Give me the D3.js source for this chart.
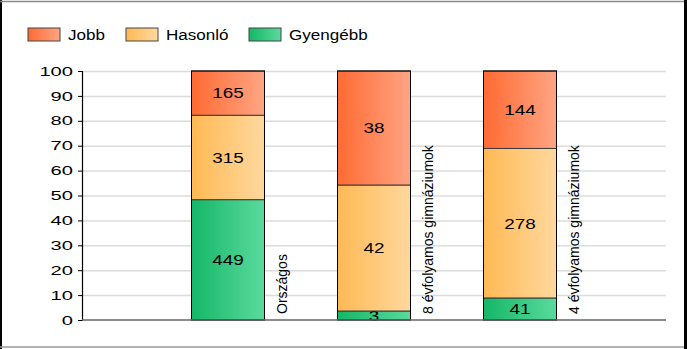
<!DOCTYPE html>
<html>
<head>
<meta charset="utf-8">
<script src="https://cdn.jsdelivr.net/npm/d3@7"></script>
<style>
  html, body { margin: 0; padding: 0; background: #fff; }
  svg { display: block; }
  text { font-family: "Liberation Sans", Arial, sans-serif; fill: #000; }
</style>
</head>
<body>
<svg id="chart" width="687" height="349"></svg>
<script>
// ---- data ----
const categories = ["Országos", "8 évfolyamos gimnáziumok", "4 évfolyamos gimnáziumok"];
const seriesNames = ["Jobb", "Hasonló", "Gyengébb"];
const gyengebb = [449, 3, 41];
const hasonlo = [315, 42, 278];
const jobb = [165, 38, 144];
const yTicks = [0, 10, 20, 30, 40, 50, 60, 70, 80, 90, 100];

// colours (left -> right gradient stops)
const grad = {
  "Jobb": ["#ff6a33", "#ffa583"],
  "Hasonló": ["#ffb954", "#ffd89e"],
  "Gyengébb": ["#15b767", "#5ada9d"]
};

(function () {
const svg = d3.select("#chart");
const W = 687, H = 349;

// frame
svg.append("rect").attr("x", 0).attr("y", 0).attr("width", W).attr("height", H).attr("fill", "#fff");
svg.append("rect").attr("x", 0).attr("y", 0).attr("width", 2).attr("height", H).attr("fill", "#000");
svg.append("rect").attr("x", 684).attr("y", 0).attr("width", 3).attr("height", H).attr("fill", "#000");
svg.append("line").attr("x1", 0).attr("x2", 684).attr("y1", 1.5).attr("y2", 1.5).attr("stroke", "#8a8a8a").attr("stroke-width", 1.5);
svg.append("line").attr("x1", 0).attr("x2", 684).attr("y1", 347).attr("y2", 347).attr("stroke", "#9a9a9a").attr("stroke-width", 1.5);

// gradients
const defs = svg.append("defs");
seriesNames.forEach((s, i) => {
  const g = defs.append("linearGradient").attr("id", "g" + i)
    .attr("x1", "0%").attr("x2", "100%").attr("y1", "0%").attr("y2", "0%");
  g.append("stop").attr("offset", "0%").attr("stop-color", grad[s][0]);
  g.append("stop").attr("offset", "100%").attr("stop-color", grad[s][1]);
});

// scales
const pLeft = 82, pRight = 666, pTop = 71, pBottom = 320;
const x = d3.scaleLinear().domain([0, categories.length + 1]).range([pLeft, pRight]);
const y = d3.scaleLinear().domain([0, 100]).range([pBottom, pTop]);
const barW = (x(1) - x(0)) / 2;

// grid
const grid = svg.append("g").attr("transform", `translate(${pLeft},0)`)
  .call(d3.axisLeft(y).tickValues(yTicks.filter(d => d > 0)).tickSize(-(pRight - pLeft)).tickFormat(""));
grid.select(".domain").remove();
grid.selectAll("line").attr("stroke", "#dcdcdc").attr("stroke-width", 1.5);

// stacked data (percentages)
const rows = categories.map((c, i) => {
  const tot = gyengebb[i] + hasonlo[i] + jobb[i];
  return { cat: c, i, vals: { "Gyengébb": gyengebb[i], "Hasonló": hasonlo[i], "Jobb": jobb[i] }, tot };
});
const order = ["Gyengébb", "Hasonló", "Jobb"];

const bars = svg.append("g");
rows.forEach(r => {
  let acc = 0;
  const cx = x(r.i + 1);
  order.forEach(s => {
    const v = r.vals[s];
    const p = v / r.tot * 100;
    const y0 = y(acc), y1 = y(acc + p);
    acc += p;
    bars.append("rect")
      .attr("x", cx - barW / 2).attr("y", y1)
      .attr("width", barW).attr("height", y0 - y1)
      .attr("fill", `url(#g${seriesNames.indexOf(s)})`)
      .attr("stroke", "#3a3a3a").attr("stroke-width", 1);
    const ty = (y0 + y1) / 2;
    const sx = 1.22;
    bars.append("text")
      .attr("x", cx / sx).attr("y", ty)
      .attr("transform", `scale(${sx},1)`)
      .attr("text-anchor", "middle").attr("dominant-baseline", "central")
      .attr("font-size", 15.5)
      .text(v);
  });
  // outline
  bars.append("rect")
    .attr("x", cx - barW / 2).attr("y", y(100))
    .attr("width", barW).attr("height", y(0) - y(100))
    .attr("fill", "none").attr("stroke", "#000").attr("stroke-width", 1);
  // category label (rotated)
  const lx = cx + barW / 2 + 22;
  svg.append("text")
    .attr("transform", `translate(${lx},314) rotate(-90)`)
    .attr("font-size", 14)
    .text(r.cat);
});

// axes
const yAxis = svg.append("g").attr("transform", `translate(${pLeft},0)`)
  .call(d3.axisLeft(y).tickValues(yTicks).tickSize(4).tickPadding(5));
yAxis.select(".domain").attr("stroke", "#000").attr("stroke-width", 1.2);
yAxis.selectAll(".tick line").attr("stroke", "#000");
const tsx = 1.55;
yAxis.selectAll(".tick text")
  .attr("font-family", "Liberation Sans, Arial, sans-serif")
  .attr("font-size", 13).attr("fill", "#000")
  .attr("x", -9 / tsx)
  .attr("transform", `scale(${tsx},1)`);

svg.append("line").attr("x1", pLeft).attr("x2", pRight).attr("y1", pBottom).attr("y2", pBottom)
  .attr("stroke", "#666").attr("stroke-width", 1.5);

// legend
const legendX = [28, 126, 249];
const lsx = 1.1;
seriesNames.forEach((s, i) => {
  const g = svg.append("g");
  g.append("rect").attr("x", legendX[i]).attr("y", 28).attr("width", 32).attr("height", 13)
    .attr("fill", `url(#g${i})`).attr("stroke", "#444").attr("stroke-width", 1);
  g.append("text").attr("x", (legendX[i] + 40) / lsx).attr("y", 40.5)
    .attr("transform", `scale(${lsx},1)`)
    .attr("font-size", 15.5).text(s);
});
})();
</script>
</body>
</html>
